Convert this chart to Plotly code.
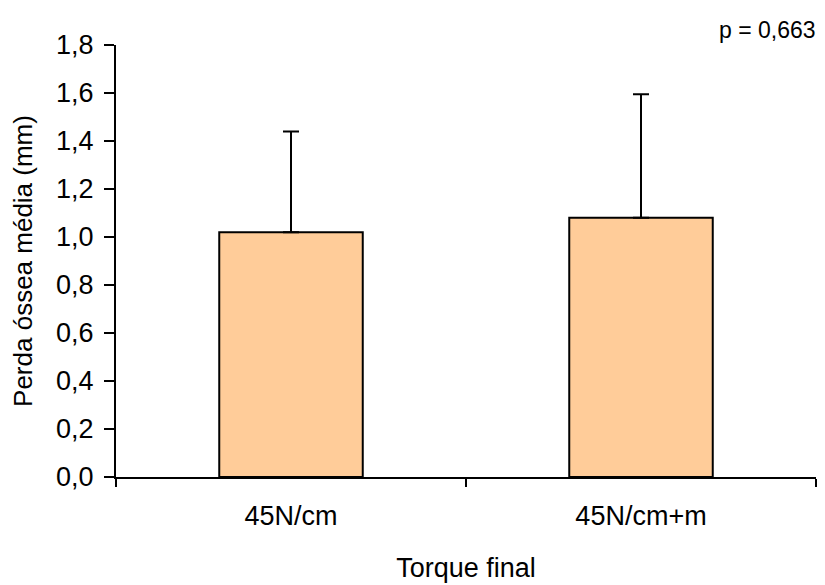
import plotly.graph_objects as go

categories = ["45N/cm", "45N/cm+m"]
means = [1.02, 1.08]
sd_upper = [0.42, 0.515]
y_ticks = [0.0, 0.2, 0.4, 0.6, 0.8, 1.0, 1.2, 1.4, 1.6, 1.8]

fig = go.Figure()
fig.add_trace(go.Bar(
    x=categories, y=means,
    width=0.41,
    marker=dict(color="#FFCC99", line=dict(color="black", width=2)),
    error_y=dict(type="data", array=sd_upper, symmetric=False, arrayminus=[0, 0],
                 color="black", thickness=2, width=8),
))

font_family = "Liberation Sans, Arial, sans-serif"
fig.update_layout(
    width=825, height=585,
    margin=dict(l=108, r=17, t=37, b=116, autoexpand=False),
    plot_bgcolor="white", paper_bgcolor="white",
    separators=",.",
    font=dict(family=font_family, size=27, color="black"),
    showlegend=False,
    xaxis=dict(
        range=[-0.5, 1.5],
        showline=True, linecolor="black", linewidth=2,
        ticks="outside", tickson="boundaries", ticklen=8, tickwidth=2, tickcolor="black",
        ticklabelstandoff=14,
        title=dict(text="Torque final", standoff=28, font=dict(size=27)),
        tickfont=dict(size=27),
    ),
    yaxis=dict(
        range=[0, 1.8],
        tickvals=y_ticks, tickformat=".1f",
        showline=True, linecolor="black", linewidth=2,
        ticks="outside", ticklen=10, tickwidth=2, tickcolor="black",
        ticklabelstandoff=5,
        showgrid=False, zeroline=False,
        title=dict(text="Perda óssea média (mm)", standoff=18, font=dict(size=26)),
        tickfont=dict(size=27),
    ),
    annotations=[dict(
        text="p = 0,663", xref="paper", yref="paper", x=1.0, y=1.0,
        xanchor="right", yanchor="middle", yshift=15, xshift=2, showarrow=False,
        font=dict(size=23, family=font_family),
    )],
)

fig.write_html("out.html")
